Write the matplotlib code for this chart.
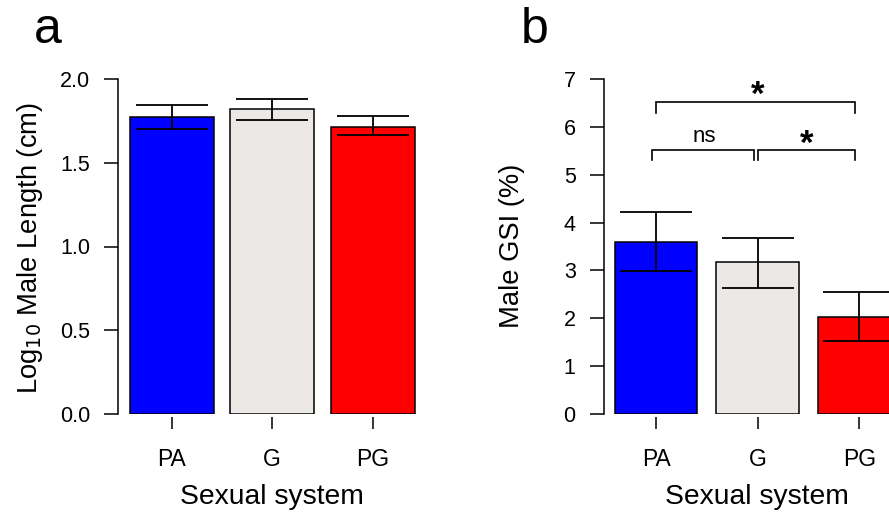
import matplotlib
matplotlib.use("Agg")
import matplotlib.pyplot as plt

plt.rcParams['font.family'] = ['Liberation Sans', 'DejaVu Sans']

categories = ["PA", "G", "PG"]
colors = ["#0000FF", "#ECE8E6", "#FF0000"]

# Panel a: log10 male length
len_mean = [1.773, 1.820, 1.715]
len_upper = [1.845, 1.883, 1.780]
len_lower = [1.700, 1.755, 1.668]

# Panel b: male GSI (%)
gsi_mean = [3.60, 3.17, 2.03]
gsi_upper = [4.23, 3.68, 2.555]
gsi_lower = [2.98, 2.64, 1.525]

W, H = 889, 515
fig = plt.figure(figsize=(W / 100, H / 100), dpi=100)


def px_axes(left, right, top, bottom):
    return fig.add_axes([left / W, 1 - bottom / H, (right - left) / W, (bottom - top) / H])


def style_panel(ax, means, lo, hi, ylim, yticks, yticklabels, width):
    x = range(len(categories))
    ax.bar(x, means, width=width, color=colors, edgecolor="black", linewidth=1.1, zorder=2)
    yerr = [[m - l for m, l in zip(means, lo)], [h - m for m, h in zip(means, hi)]]
    ax.errorbar(x, means, yerr=yerr, fmt="none", ecolor="black", elinewidth=1.3,
                capsize=26, capthick=1.3, zorder=3, clip_on=False)
    ax.set_ylim(*ylim)
    ax.set_yticks(yticks)
    ax.set_yticklabels(yticklabels)
    ax.set_xticks(list(x))
    ax.set_xticklabels(categories)
    for s in ["top", "right"]:
        ax.spines[s].set_visible(False)
    ax.spines["bottom"].set_visible(False)
    ax.spines["bottom"].set_position(("outward", 2))
    ax.spines["left"].set_linewidth(1.1)
    ax.tick_params(axis="y", length=10, width=1.1, pad=10, labelsize=15.5)
    ax.tick_params(axis="x", length=8.6, width=1.1, pad=14, labelsize=16.5)
    ax.patch.set_alpha(0)


# Panel a
ax1 = px_axes(118, 118 + 3.1 * 100.5, 79, 414)
ax1.set_xlim(-0.537, 2.567)
style_panel(ax1, len_mean, len_lower, len_upper, (0, 2.0),
            [0, 0.5, 1.0, 1.5, 2.0], ["0.0", "0.5", "1.0", "1.5", "2.0"], 0.835)

# Panel b
ax2 = px_axes(603.5, 603.5 + 3.12 * 101.5, 79, 414)
ax2.set_xlim(-0.517, 2.6)
style_panel(ax2, gsi_mean, gsi_lower, gsi_upper, (0, 7),
            list(range(8)), [str(i) for i in range(8)], 0.81)

# significance brackets (panel b)
def bracket(ax, x0, x1, y, drop):
    ax.plot([x0, x0, x1, x1], [y - drop, y, y, y - drop], color="black", lw=1.2,
            clip_on=False, solid_joinstyle="miter")

bracket(ax2, 0.0, 1.96, 6.51, 0.21)
bracket(ax2, -0.04, 0.96, 5.51, 0.21)
bracket(ax2, 1.0, 1.96, 5.51, 0.21)
ax2.text(0.48, 5.69, "ns", ha="center", va="baseline", fontsize=16)
ax2.text(1.48, 5.63, "*", ha="center", va="center", fontsize=25, fontweight="bold")
ax2.text(1.0, 6.66, "*", ha="center", va="center", fontsize=25, fontweight="bold")

# axis labels
fig.text(30 / W, 1 - 248 / H, r"Log$_{10}$ Male Length (cm)", rotation=90,
         ha="center", va="center", fontsize=19.7)
fig.text(512 / W, 1 - 246 / H, "Male GSI (%)", rotation=90,
         ha="center", va="center", fontsize=19.7)
fig.text(272 / W, 1 - 497 / H, "Sexual system", ha="center", va="center", fontsize=20.3)
fig.text(757 / W, 1 - 497 / H, "Sexual system", ha="center", va="center", fontsize=20.3)

# panel letters
fig.text(34 / W, 1 - 43 / H, "a", ha="left", va="baseline", fontsize=36)
fig.text(521 / W, 1 - 43 / H, "b", ha="left", va="baseline", fontsize=36)

fig.savefig("out.png", dpi=100)
